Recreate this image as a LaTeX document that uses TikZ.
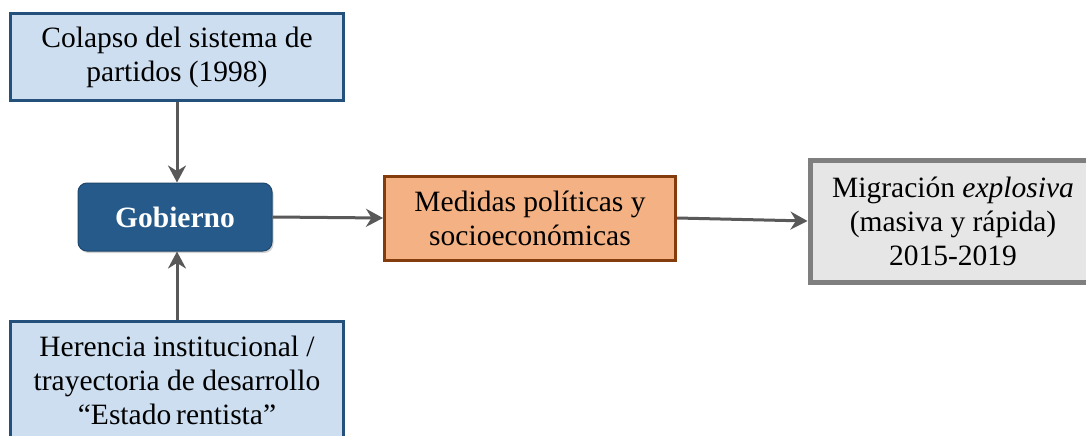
\documentclass[tikz,border=0pt]{standalone}
\usepackage{fontspec}
\setmainfont{Liberation Serif}
\usepackage{tikz}
\usetikzlibrary{arrows.meta,shadows}

\definecolor{boxblue}{HTML}{CCDEF0}
\definecolor{lineblue}{HTML}{24507C}
\definecolor{govblue}{HTML}{255A8A}
\definecolor{boxorange}{HTML}{F4B183}
\definecolor{lineorange}{HTML}{843C0C}
\definecolor{boxgray}{HTML}{E6E6E6}
\definecolor{linegray}{HTML}{7F7F7F}
\definecolor{arrowgray}{HTML}{595959}

\tikzset{
  txt/.style={align=center,inner sep=0pt,font=\fontsize{29.5}{34}\selectfont},
  causebox/.style={txt,draw=lineblue,line width=3pt,fill=boxblue,rectangle},
  flow/.style={draw=arrowgray,line width=3pt,-{Stealth[length=17pt,width=18pt]}}
}

\begin{document}
\begin{tikzpicture}[x=1pt,y=-1pt]
\useasboundingbox (0,0) rectangle (1086,436);
\clip (0,0) rectangle (1086,436);
\node[causebox,minimum width=333pt,minimum height=86pt] (colapso) at (177,57) {Colapso del sistema de\\partidos (1998)};
\node[causebox,minimum width=333pt,minimum height=118pt] (herencia) at (177,380) {Herencia institucional /\\trayectoria de desarrollo\\``Estado\,rentista''};
\node[txt,rectangle,rounded corners=9pt,fill=govblue,draw=govblue!80!black,line width=1pt,drop shadow={opacity=0.35,shadow xshift=1.5pt,shadow yshift=-2pt},text=white,font=\fontsize{29.5}{34}\selectfont\bfseries,minimum width=194pt,minimum height=68pt] (gobierno) at (175,217) {Gobierno};
\node[txt,rectangle,draw=lineorange,line width=3pt,fill=boxorange,minimum width=291pt,minimum height=84pt] (medidas) at (530,218) {Medidas pol\'iticas y\\socioecon\'omicas};
\node[txt,rectangle,draw=linegray,line width=5pt,fill=boxgray,minimum width=286pt,minimum height=122pt] (migracion) at (953,221) {Migraci\'on \textit{explosiva}\\(masiva y r\'apida)\\2015-2019};
\draw[flow] (colapso.south) -- (colapso.south |- gobierno.north);
\draw[flow] (herencia.north) -- (herencia.north |- gobierno.south);
\draw[flow] (gobierno.east) -- (medidas.west);
\draw[flow] (medidas.east) -- (migracion.west);
\end{tikzpicture}
\end{document}
